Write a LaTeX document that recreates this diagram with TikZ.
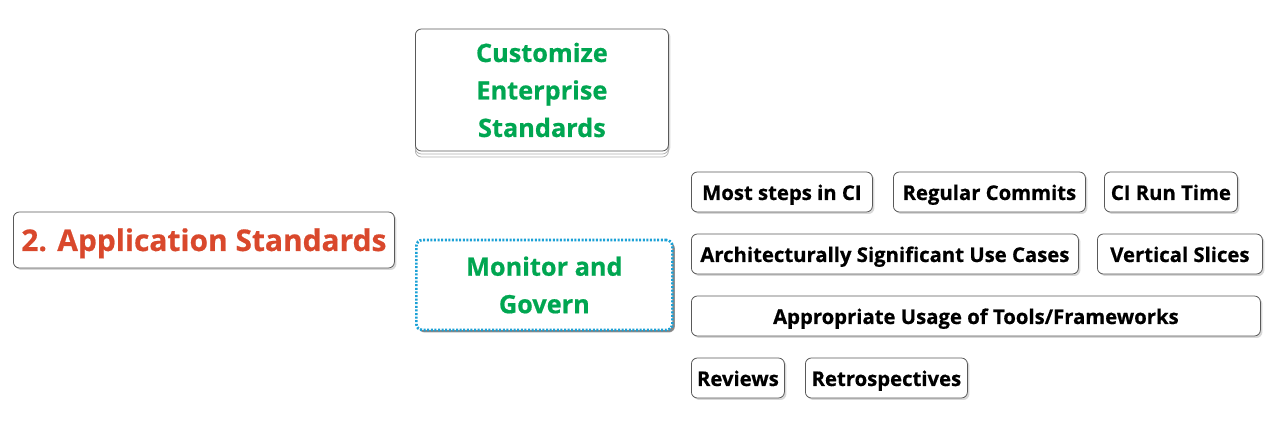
\documentclass[tikz,border=0pt]{standalone}
\usepackage{fontspec}
\setmainfont{Open Sans}[BoldFeatures={FakeBold=0.6}]
\usetikzlibrary{shadows}
\definecolor{topicred}{RGB}{217,72,44}
\definecolor{topicgreen}{RGB}{0,166,81}
\definecolor{dotblue}{RGB}{27,161,214}
\begin{document}
\begin{tikzpicture}[x=1pt,y=-1pt,
item/.style={%
anchor=west,
draw=gray!70!black,
fill=white,
rounded corners=6pt,
line width=0.8pt,
inner sep=0pt,
minimum height=40pt,
text height=16pt,
text depth=0pt,
font=\fontsize{20.3}{24}\selectfont\bfseries,
drop shadow={shadow xshift=2pt,shadow yshift=-2pt,fill=gray!60},
},
root/.style={%
item,
minimum height=56pt,
text=topicred,
text height=22pt,
text depth=0pt,
font=\fontsize{29.9}{36}\selectfont\bfseries,
},
branch/.style={%
item,
align=center,
text=topicgreen,
text height=,
text depth=,
font=\fontsize{25.3}{37.5}\selectfont\bfseries,
},
]
\useasboundingbox (0,0) rectangle (1280,427);
%% root
\node[root,minimum width=381pt]at(13,240)(apps){2. Application Standards};
%% branches
\node[branch,minimum width=253pt,minimum height=122pt,
  drop shadow={opacity=0},
  double copy shadow={shadow xshift=0pt,shadow yshift=-3pt,draw=gray!60,fill=white}]
  at(415,90)(custom){Customize\\Enterprise\\Standards};
\node[branch,minimum width=256pt,minimum height=90pt,draw=dotblue,line width=2.7pt,
  dash pattern=on 2pt off 1.6pt,
  drop shadow={shadow xshift=2.5pt,shadow yshift=-2.5pt,fill=black!80}]
  at(415,285)(monitor){Monitor and\\Govern};
%% leaves
\node[item,minimum width=181pt]at(691,192)(steps){Most steps in CI};
\node[item,minimum width=192pt]at(893,192)(commits){Regular Commits};
\node[item,minimum width=133pt]at(1104,192)(runtime){CI Run Time};
\node[item,minimum width=387pt]at(691,254)(usecases){Architecturally Significant Use Cases};
\node[item,minimum width=165pt]at(1097,254)(slices){Vertical Slices};
\node[item,minimum width=569pt]at(691,316)(tools){Appropriate Usage of Tools/Frameworks};
\node[item,minimum width=93pt]at(691,378)(reviews){Reviews};
\node[item,minimum width=162pt]at(805,378)(retros){Retrospectives};
\end{tikzpicture}
\end{document}
